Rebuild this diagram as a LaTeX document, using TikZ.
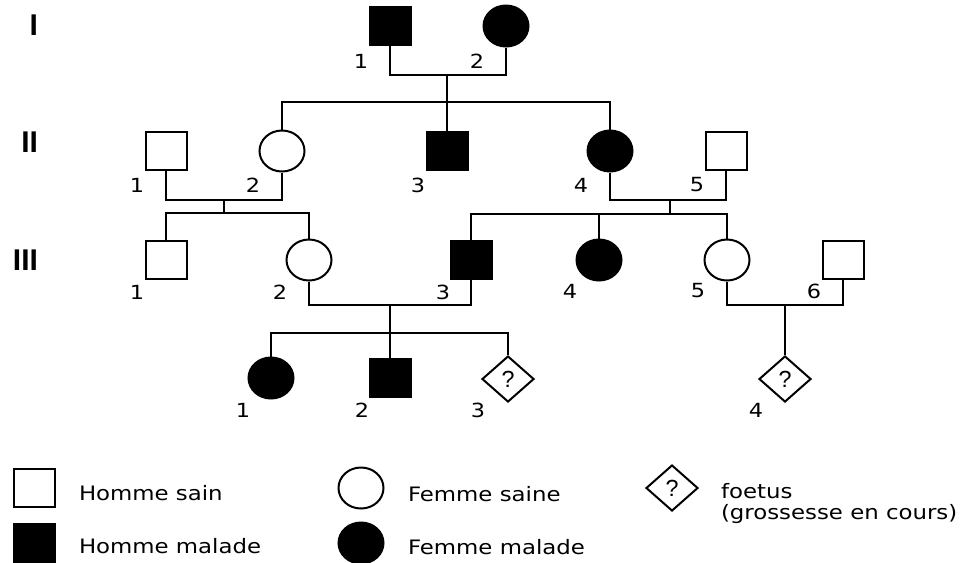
\documentclass[tikz,border=0pt]{standalone}
\usepackage{fontspec}
\setmainfont{DejaVu Sans}
\newfontfamily\labfont[FakeStretch=1.15]{DejaVu Sans}
\newfontfamily\romfont{Liberation Sans}
\newfontfamily\qfont{Liberation Sans}
\usetikzlibrary{shapes.geometric}
\begin{document}
\begin{tikzpicture}[x=0.75pt,y=-0.75pt, line width=1.5pt,
  male/.style={draw, rectangle, minimum width=30.75pt, minimum height=28.5pt, inner sep=0pt},
  female/.style={draw, ellipse, minimum width=33.75pt, minimum height=30.75pt, inner sep=0pt},
  fetus/.style={draw, diamond, minimum width=39pt, minimum height=34.5pt, inner sep=0pt, font=\qfont\fontsize{17.5}{17.5}\selectfont},
  sick/.style={fill=black},
  healthy/.style={fill=white},
  num/.style={inner sep=0pt, font=\labfont\fontsize{14.6}{14.6}\selectfont},
  gen/.style={inner sep=0pt, anchor=east, font=\romfont\bfseries\fontsize{22.5}{22.5}\selectfont},
  legtext/.style={inner sep=0pt, anchor=base west, font=\labfont\fontsize{14.9}{14.9}\selectfont}
]
\useasboundingbox (0,0) rectangle (966,562);

% generation numerals
\node[gen] (gI) at (39,25) {I};
\node[gen] (gII) at (39,142) {II};
\node[gen] (gIII) at (39,260.5) {III};

% generation I
\node[male,sick] (I1) at (390,26) {};
\node[female,sick] (I2) at (506,26) {};
\node[num] (lI1) at (361,61) {1};
\node[num] (lI2) at (477,61) {2};

% generation II
\node[male,healthy] (II1) at (166,151) {};
\node[female,healthy] (II2) at (282,151) {};
\node[male,sick] (II3) at (447,151) {};
\node[female,sick] (II4) at (610,151) {};
\node[male,healthy] (II5) at (726,151) {};
\node[num] (lII1) at (137,185) {1};
\node[num] (lII2) at (253,185) {2};
\node[num] (lII3) at (418,185) {3};
\node[num] (lII4) at (581,185) {4};
\node[num] (lII5) at (697,185) {5};

% generation III
\node[male,healthy] (III1) at (166,260) {};
\node[female,healthy] (III2) at (309,260) {};
\node[male,sick] (III3) at (471,260) {};
\node[female,sick] (III4) at (599,260) {};
\node[female,healthy] (III5) at (727,260) {};
\node[male,healthy] (III6) at (843,260) {};
\node[num] (lIII1) at (137,292) {1};
\node[num] (lIII2) at (280,292) {2};
\node[num] (lIII3) at (443,292) {3};
\node[num] (lIII4) at (570,291) {4};
\node[num] (lIII5) at (698,291) {5};
\node[num] (lIII6) at (814,291) {6};

% generation IV
\node[female,sick] (IV1) at (271,378) {};
\node[male,sick] (IV2) at (390,378) {};
\node[fetus] (IV3) at (508,379) {?};
\node[fetus] (IV4) at (785,379) {?};
\node[num] (lIV1) at (243,410) {1};
\node[num] (lIV2) at (362,410) {2};
\node[num] (lIV3) at (478,410) {3};
\node[num] (lIV4) at (756,410) {4};

% connectors
\coordinate (m1) at (447,75);
\coordinate (s1) at (447,102);
\draw (I1.south) |- (m1) -| (I2.south);
\draw (m1) -- (s1);
\draw (II2.north) |- (s1) -| (II4.north);
\draw (s1) -- (II3.north);

\coordinate (m2) at (224,200);
\coordinate (s2) at (224,213);
\draw (II1.south) |- (m2) -| (II2.south);
\draw (m2) -- (s2);
\draw (III1.north) |- (s2) -| (III2.north);

\coordinate (m3) at (670,200);
\coordinate (s3) at (670,214);
\draw (II4.south) |- (m3) -| (II5.south);
\draw (m3) -- (s3);
\draw (III3.north) |- (s3) -| (III5.north);
\draw (III4.north) -- (III4.north |- s3);

\coordinate (m4) at (390,305);
\coordinate (s4) at (390,333);
\draw (III2.south) |- (m4) -| (III3.south);
\draw (m4) -- (IV2.north);
\draw (IV1.north) |- (s4) -| (IV3.north);

\coordinate (m5) at (785,305);
\draw (III5.south) |- (m5) -| (III6.south);
\draw (m5) -- (IV4.north);

% legend
\node[male,healthy] (L1) at (34,488) {};
\node[male,sick] (L2) at (34,543) {};
\node[female,healthy] (L3) at (361,488) {};
\node[female,sick] (L4) at (361,543) {};
\node[fetus] (L5) at (672,488) {?};
\node[legtext] (t1) at (78,500) {Homme sain};
\node[legtext] (t2) at (78,553) {Homme malade};
\node[legtext] (t3) at (407,501) {Femme saine};
\node[legtext] (t4) at (407,554) {Femme malade};
\node[legtext] (t5) at (720,498) {foetus};
\node[legtext] (t6) at (720,519) {(grossesse en cours)};
\end{tikzpicture}
\end{document}
